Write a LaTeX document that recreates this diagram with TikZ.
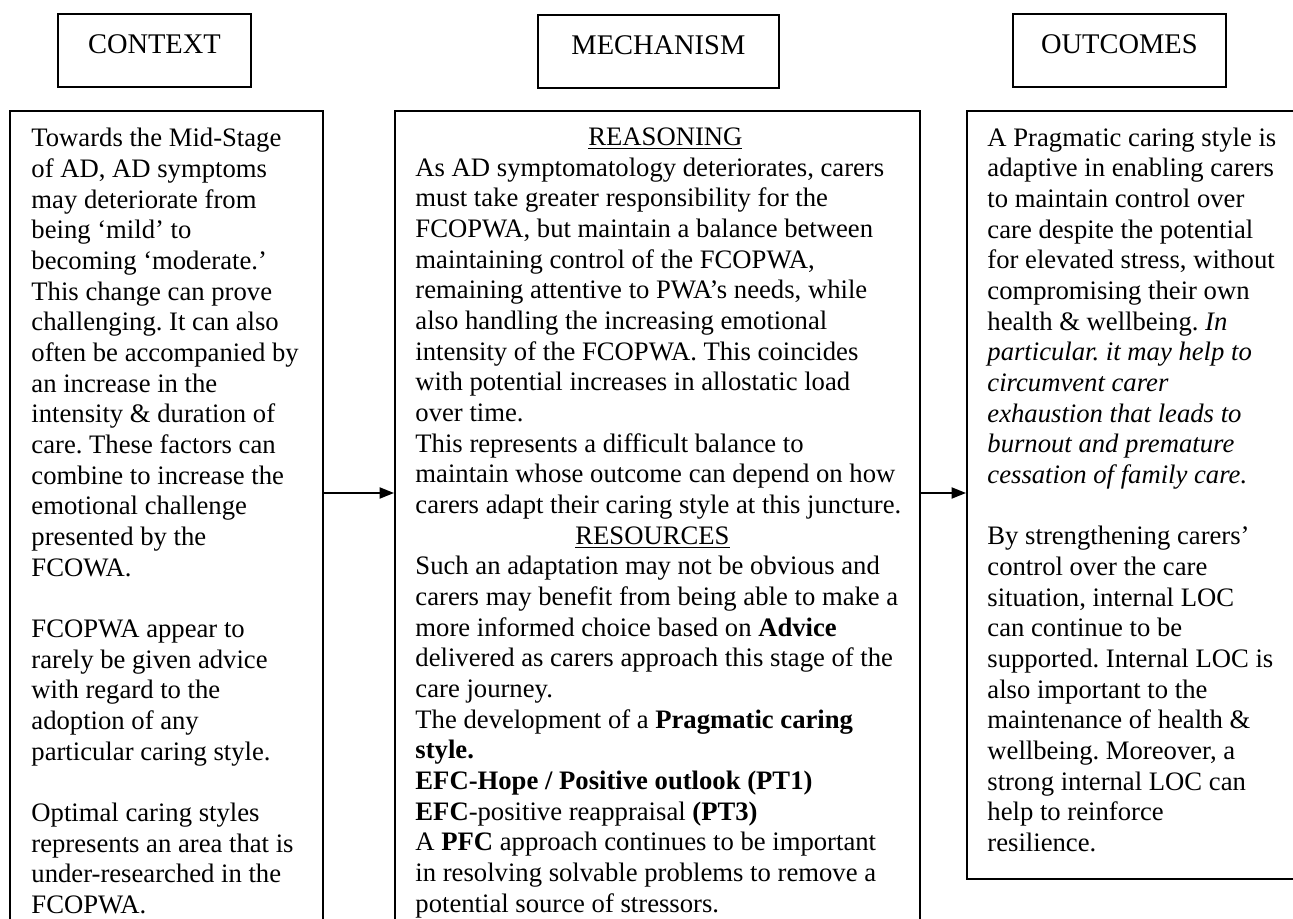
\documentclass[tikz,border=0pt]{standalone}
\usepackage{fontspec}
\setmainfont{Liberation Serif}
\usetikzlibrary{positioning, calc, arrows.meta}
\frenchspacing

\begin{document}
\begin{tikzpicture}[
  x=1pt, y=-1pt,
  headbox/.style={rectangle, draw, line width=0.8pt, anchor=north west, inner sep=0pt,
    minimum height=32.85pt, text height=18pt, text depth=14.85pt,
    font=\fontsize{12.8pt}{14pt}\selectfont},
  framebox/.style={rectangle, draw, line width=0.8pt, anchor=north west, inner sep=0pt},
  bodytext/.style={anchor=north west, inner sep=0pt, align=left,
    font=\fontsize{12pt}{13.8pt}\selectfont},
  arrow/.style={-{Triangle[length=6.5pt, width=5pt]}, line width=0.8pt}
]
\useasboundingbox (0,0) rectangle (581.85,413.55);
\clip (0,0) rectangle (581.85,413.55);

%------------------------------------------------
% Headings
%------------------------------------------------
\node[headbox, minimum width=86.85pt] (ctxhead) at (25.65,5.85) {CONTEXT};
\node[headbox, minimum width=108.45pt] (mechhead) at (241.65,6.3) {MECHANISM};
\node[headbox, minimum width=95.85pt] (outhead) at (455.4,5.85) {OUTCOMES};

%------------------------------------------------
% Frames
%------------------------------------------------
\node[framebox, minimum width=140.85pt, minimum height=380pt] (ctxbox) at (4.05,49.5) {};
\node[framebox, minimum width=236.25pt, minimum height=380pt] (mechbox) at (177.3,49.5) {};
\node[framebox, minimum width=154.8pt, minimum height=345.6pt] (outbox) at (434.7,49.5) {};

%------------------------------------------------
% Context
%------------------------------------------------
\node[bodytext] (ctxtext) at (13.95,57.5) {%
Towards the Mid-Stage\\
of AD, AD symptoms\\
may deteriorate from\\
being ‘mild’ to\\
becoming ‘moderate.’\\
This change can prove\\
challenging. It can also\\
often be accompanied by\\
an increase in the\\
intensity \& duration of\\
care. These factors can\\
combine to increase the\\
emotional challenge\\
presented by the\\
FCOWA.\\[13.8pt]
FCOPWA appear to\\
rarely be given advice\\
with regard to the\\
adoption of any\\
particular caring style.\\[13.8pt]
Optimal caring styles\\
represents an area that is\\
under-researched in the\\
FCOPWA.};

%------------------------------------------------
% Mechanism
%------------------------------------------------
\node[bodytext] (mechtext) at (186.75,57.3) {%
\makebox[225pt]{\underline{REASONING}}\\
As AD symptomatology deteriorates, carers\\
must take greater responsibility for the\\
FCOPWA, but maintain a balance between\\
maintaining control of the FCOPWA,\\
remaining attentive to PWA’s needs, while\\
also handling the increasing emotional\\
intensity of the FCOPWA. This coincides\\
with potential increases in allostatic load\\
over time.\\
This represents a difficult balance to\\
maintain whose outcome can depend on how\\
carers adapt their caring style at this juncture.\\
\makebox[213.3pt]{\underline{RESOURCES}}\\
Such an adaptation may not be obvious and\\
carers may benefit from being able to make a\\
more informed choice based on \textbf{Advice}\\
delivered as carers approach this stage of the\\
care journey.\\
The development of a \textbf{Pragmatic caring}\\
\textbf{style.}\\
\textbf{EFC-Hope / Positive outlook (PT1)}\\
\textbf{EFC}-positive reappraisal \textbf{(PT3)}\\
A \textbf{PFC} approach continues to be important\\
in resolving solvable problems to remove a\\
potential source of stressors.};

%------------------------------------------------
% Outcomes
%------------------------------------------------
\node[bodytext] (outtext) at (444.15,57.3) {%
A Pragmatic caring style is\\
adaptive in enabling carers\\
to maintain control over\\
care despite the potential\\
for elevated stress, without\\
compromising their own\\
health \& wellbeing. \textit{In}\\
\textit{particular. it may help to}\\
\textit{circumvent carer}\\
\textit{exhaustion that leads to}\\
\textit{burnout and premature}\\
\textit{cessation of family care.}\\[13.8pt]
By strengthening carers’\\
control over the care\\
situation, internal LOC\\
can continue to be\\
supported. Internal LOC is\\
also important to the\\
maintenance of health \&\\
wellbeing. Moreover, a\\
strong internal LOC can\\
help to reinforce\\
resilience.};

%------------------------------------------------
% Arrows
%------------------------------------------------
\draw[arrow] ([yshift=-172.35pt]ctxbox.north east) -- ([yshift=-172.35pt]mechbox.north west);
\draw[arrow] ([yshift=-172.35pt]mechbox.north east) -- ([yshift=-172.35pt]outbox.north west);

\end{tikzpicture}
\end{document}
